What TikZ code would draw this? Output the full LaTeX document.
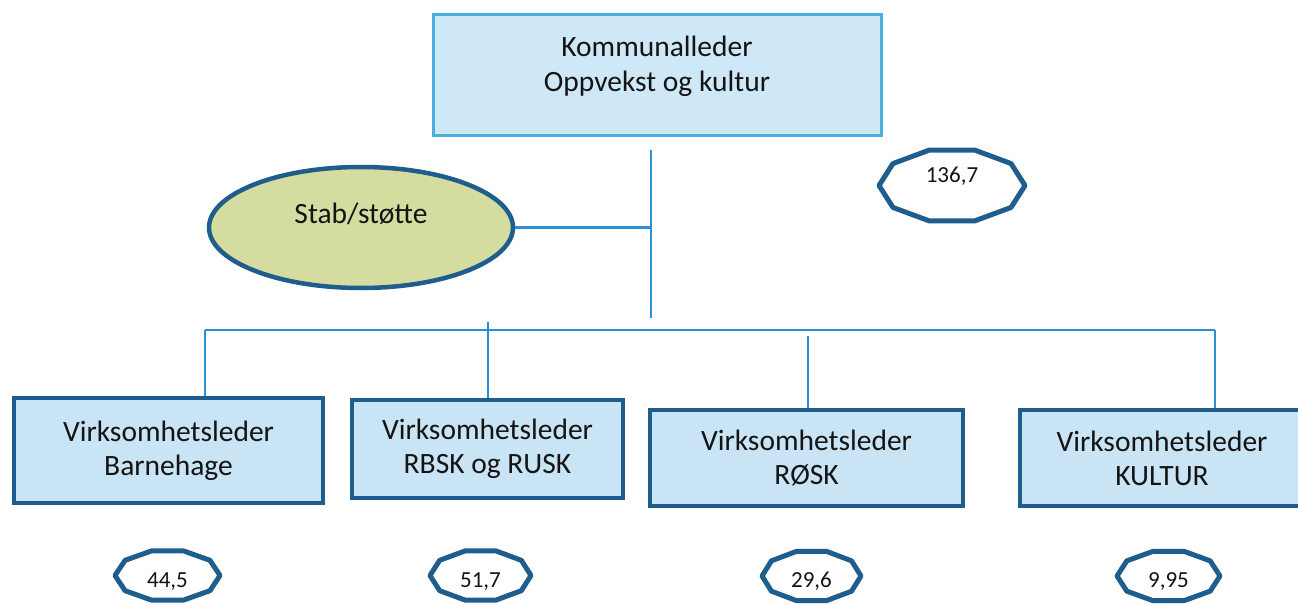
\documentclass[tikz,border=0pt]{standalone}
\usepackage{fontspec}
\setmainfont{Carlito}
\usetikzlibrary{shapes.geometric,calc}
\definecolor{topfill}{HTML}{CFE8F7}
\definecolor{topline}{HTML}{4AAEE0}
\definecolor{boxfill}{HTML}{C9E4F4}
\definecolor{darkline}{HTML}{1F5E8C}
\definecolor{stabfill}{HTML}{D5DCA0}
\definecolor{connline}{HTML}{2B8ED8}
\definecolor{txtcol}{HTML}{141414}
\newcommand\mydecagon[3]{%
  \draw[decaline] ([shift={(0:#2 and #3)}]#1) \foreach \a in {36,72,...,324}{ -- ([shift={(\a:#2 and #3)}]#1)} -- cycle;}
\begin{document}
\begin{tikzpicture}[x=1pt,y=-1pt,
  topbox/.style={draw=topline, line width=3.5pt, fill=topfill, rectangle, inner sep=0pt},
  leadbox/.style={draw=darkline, line width=4.5pt, fill=boxfill, rectangle, inner sep=0pt, align=center, text=txtcol, font=\fontsize{29.5}{34}\selectfont},
  stabell/.style={draw=darkline, line width=4.5pt, fill=stabfill, ellipse, inner sep=0pt},
  lbl/.style={font=\fontsize{29.5}{35}\selectfont, text=txtcol, align=center, inner sep=0pt},
  numlbl/.style={font=\fontsize{23}{27}\selectfont, text=txtcol, inner sep=0pt, anchor=base},
  decaline/.style={draw=darkline, line width=5pt, line join=round},
  conn/.style={draw=connline, line width=2.2pt}]
\fill[white] (0,0) rectangle (1298,604);
\useasboundingbox (0,0) rectangle (1298,604);

% top box
\node[topbox, minimum width=448pt, minimum height=121pt] (top) at (657.5,75) {};
\node[lbl] (toptxt) at (657,66) {Kommunalleder\\Oppvekst og kultur};

% staff ellipse
\node[stabell, minimum width=304pt, minimum height=121pt] (stab) at (361,227.5) {};
\node[lbl, anchor=base] (stabtxt) at (361,223) {Stab/støtte};

% leader boxes
\node[leadbox, minimum width=309pt, minimum height=105pt] (b1) at (168.5,450.5) {Virksomhetsleder\\Barnehage};
\node[leadbox, minimum width=271pt, minimum height=98pt] (b2) at (487.5,449) {Virksomhetsleder\\RBSK og RUSK};
\node[leadbox, minimum width=313pt, minimum height=96pt] (b3) at (806.5,458) {Virksomhetsleder\\RØSK};
\node[leadbox, minimum width=284pt, minimum height=96pt] (b4) at (1162,458) {Virksomhetsleder\\KULTUR};

% connectors
\coordinate (vtop) at (651,150);
\coordinate (vbot) at (651,318);
\draw[conn] (vtop) -- (vbot);
\draw[conn] (stab.east) -- (stab.east -| vtop);
\coordinate (busL) at (205,330);
\coordinate (busR) at (1215,330);
\draw[conn] (busL) -- (busR);
\draw[conn] (busL) -- (b1.north -| busL);
\coordinate (s2) at (488,322);
\draw[conn] (s2) -- (b2.north -| s2);
\coordinate (s3) at (808,336);
\draw[conn] (s3) -- (b3.north -| s3);
\draw[conn] (busR) -- (b4.north -| busR);

% figures
\coordinate (d0) at (952,185.5);
\mydecagon{d0}{73}{37.3}
\node[numlbl] (n0) at (952,183) {136,7};

\coordinate (d1) at (167.5,575.5);
\mydecagon{d1}{52.5}{25.8}
\node[numlbl] (n1) at (167.5,587) {44,5};

\coordinate (d2) at (480.5,575.5);
\mydecagon{d2}{50.5}{25.8}
\node[numlbl] (n2) at (480.5,587) {51,7};

\coordinate (d3) at (811.5,576);
\mydecagon{d3}{49.5}{25.8}
\node[numlbl] (n3) at (811.5,587) {29,6};

\coordinate (d4) at (1168.5,576);
\mydecagon{d4}{51.5}{25.8}
\node[numlbl] (n4) at (1168.5,587) {9,95};
\end{tikzpicture}
\end{document}
